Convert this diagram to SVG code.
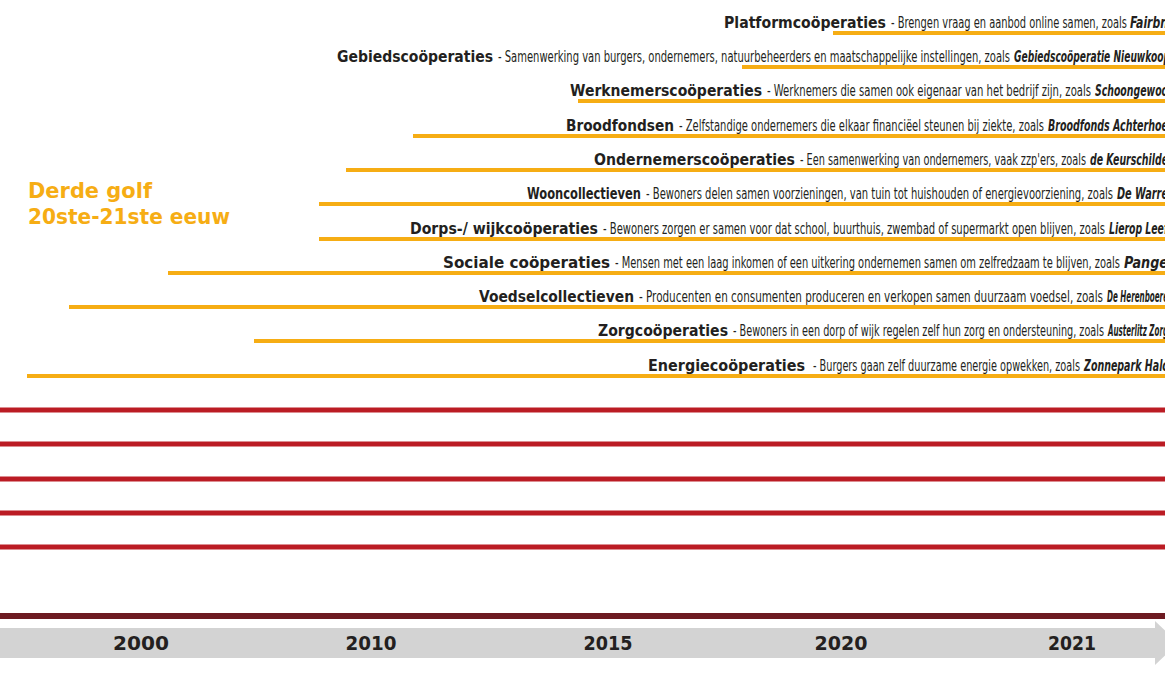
<svg xmlns="http://www.w3.org/2000/svg" width="1165" height="682" viewBox="0 0 1165 682">
<defs>
<style>
.t{font-family:"DejaVu Sans",Lato,sans-serif;font-weight:700;font-size:16px;fill:#231f20}
.d{font-family:"DejaVu Sans Condensed","Liberation Sans Narrow","Roboto",sans-serif;font-stretch:condensed;font-size:16px;fill:#231f20}
.n{font-family:"DejaVu Sans Condensed","Liberation Sans Narrow","Roboto",sans-serif;font-stretch:condensed;font-size:16px;font-weight:700;font-style:italic;fill:#231f20}
.bar{stroke:#f6ad14;stroke-width:4;fill:none}
.red{stroke:#bb1c24;stroke-width:5;fill:none}
.yr{font-family:"DejaVu Sans",sans-serif;font-weight:700;font-size:19px;fill:#231f20;text-anchor:middle}
.lbl{font-family:"DejaVu Sans",Lato,sans-serif;font-weight:700;font-size:21px;fill:#f6ad14}
</style>
</defs>
<rect width="1165" height="682" fill="#ffffff"/>

<g id="label-derde-golf">
<text class="lbl" x="28" y="198" textLength="124" lengthAdjust="spacingAndGlyphs">Derde golf</text>
<text class="lbl" x="28" y="224" textLength="202" lengthAdjust="spacingAndGlyphs">20ste-21ste eeuw</text>
</g>

<g id="connectors">
<line class="bar" x1="833" y1="33" x2="1165" y2="33"/>
<line class="bar" x1="742" y1="67" x2="1165" y2="67"/>
<line class="bar" x1="578" y1="101" x2="1165" y2="101"/>
<line class="bar" x1="413" y1="136" x2="1165" y2="136"/>
<line class="bar" x1="346" y1="170" x2="1165" y2="170"/>
<line class="bar" x1="319" y1="204" x2="1165" y2="204"/>
<line class="bar" x1="319" y1="239" x2="1165" y2="239"/>
<line class="bar" x1="168" y1="273" x2="1165" y2="273"/>
<line class="bar" x1="69" y1="307" x2="1165" y2="307"/>
<line class="bar" x1="254" y1="341" x2="1165" y2="341"/>
<line class="bar" x1="27" y1="376" x2="1165" y2="376"/>
<line class="red" x1="0" y1="410" x2="1165" y2="410"/>
<line class="red" x1="0" y1="444" x2="1165" y2="444"/>
<line class="red" x1="0" y1="479" x2="1165" y2="479"/>
<line class="red" x1="0" y1="513" x2="1165" y2="513"/>
<line class="red" x1="0" y1="547" x2="1165" y2="547"/>
<line x1="0" y1="616" x2="1165" y2="616" stroke="#6d1a21" stroke-width="6"/>
</g>

<g id="row-platform">
<text y="28"><tspan class="t" x="724" textLength="162" lengthAdjust="spacingAndGlyphs">Platformcoöperaties</tspan><tspan class="d" x="891" textLength="236" lengthAdjust="spacingAndGlyphs">- Brengen vraag en aanbod online samen, zoals</tspan><tspan class="n" x="1130" textLength="38" lengthAdjust="spacingAndGlyphs">Fairbn</tspan></text>
</g>
<g id="row-gebieds">
<text y="62"><tspan class="t" x="337" textLength="156" lengthAdjust="spacingAndGlyphs">Gebiedscoöperaties</tspan><tspan class="d" x="498" textLength="512" lengthAdjust="spacingAndGlyphs">- Samenwerking van burgers, ondernemers, natuurbeheerders en maatschappelijke instellingen, zoals</tspan><tspan class="n" x="1014" textLength="156" lengthAdjust="spacingAndGlyphs">Gebiedscoöperatie Nieuwkoop</tspan></text>
</g>
<g id="row-werknemers">
<text y="96"><tspan class="t" x="570" textLength="192" lengthAdjust="spacingAndGlyphs">Werknemerscoöperaties</tspan><tspan class="d" x="767" textLength="324" lengthAdjust="spacingAndGlyphs">- Werknemers die samen ook eigenaar van het bedrijf zijn, zoals</tspan><tspan class="n" x="1095" textLength="73" lengthAdjust="spacingAndGlyphs">Schoongewoo</tspan></text>
</g>
<g id="row-broodfondsen">
<text y="131"><tspan class="t" x="566" textLength="108" lengthAdjust="spacingAndGlyphs">Broodfondsen</tspan><tspan class="d" x="679" textLength="365" lengthAdjust="spacingAndGlyphs">- Zelfstandige ondernemers die elkaar financiëel steunen bij ziekte, zoals</tspan><tspan class="n" x="1048" textLength="120" lengthAdjust="spacingAndGlyphs">Broodfonds Achterhoe</tspan></text>
</g>
<g id="row-ondernemers">
<text y="165"><tspan class="t" x="594" textLength="201" lengthAdjust="spacingAndGlyphs">Ondernemerscoöperaties</tspan><tspan class="d" x="800" textLength="286" lengthAdjust="spacingAndGlyphs">- Een samenwerking van ondernemers, vaak zzp'ers, zoals</tspan><tspan class="n" x="1090" textLength="78" lengthAdjust="spacingAndGlyphs">de Keurschilde</tspan></text>
</g>
<g id="row-wooncollectieven">
<text y="199"><tspan class="t" x="527" textLength="114" lengthAdjust="spacingAndGlyphs">Wooncollectieven</tspan><tspan class="d" x="646" textLength="467" lengthAdjust="spacingAndGlyphs">- Bewoners delen samen voorzieningen, van tuin tot huishouden of energievoorziening, zoals</tspan><tspan class="n" x="1117" textLength="51" lengthAdjust="spacingAndGlyphs">De Warre</tspan></text>
</g>
<g id="row-dorps">
<text y="234"><tspan class="t" x="410" textLength="188" lengthAdjust="spacingAndGlyphs">Dorps-/ wijkcoöperaties</tspan><tspan class="d" x="603" textLength="502" lengthAdjust="spacingAndGlyphs">- Bewoners zorgen er samen voor dat school, buurthuis, zwembad of supermarkt open blijven, zoals</tspan><tspan class="n" x="1109" textLength="59" lengthAdjust="spacingAndGlyphs">Lierop Leef</tspan></text>
</g>
<g id="row-sociale">
<text y="268"><tspan class="t" x="443" textLength="167" lengthAdjust="spacingAndGlyphs">Sociale coöperaties</tspan><tspan class="d" x="615" textLength="505" lengthAdjust="spacingAndGlyphs">- Mensen met een laag inkomen of een uitkering ondernemen samen om zelfredzaam te blijven, zoals</tspan><tspan class="n" x="1124" textLength="44" lengthAdjust="spacingAndGlyphs">Pange</tspan></text>
</g>
<g id="row-voedsel">
<text y="302"><tspan class="t" x="479" textLength="155" lengthAdjust="spacingAndGlyphs">Voedselcollectieven</tspan><tspan class="d" x="639" textLength="464" lengthAdjust="spacingAndGlyphs">- Producenten en consumenten produceren en verkopen samen duurzaam voedsel, zoals</tspan><tspan class="n" x="1107" textLength="61" lengthAdjust="spacingAndGlyphs">De Herenboere</tspan></text>
</g>
<g id="row-zorg">
<text y="336"><tspan class="t" x="598" textLength="130" lengthAdjust="spacingAndGlyphs">Zorgcoöperaties</tspan><tspan class="d" x="733" textLength="371" lengthAdjust="spacingAndGlyphs">- Bewoners in een dorp of wijk regelen zelf hun zorg en ondersteuning, zoals</tspan><tspan class="n" x="1108" textLength="60" lengthAdjust="spacingAndGlyphs">Austerlitz Zorg</tspan></text>
</g>
<g id="row-energie">
<text y="371"><tspan class="t" x="648" textLength="157" lengthAdjust="spacingAndGlyphs">Energiecoöperaties</tspan><tspan class="d" x="813" textLength="267" lengthAdjust="spacingAndGlyphs">-  Burgers gaan zelf duurzame energie opwekken, zoals</tspan><tspan class="n" x="1084" textLength="84" lengthAdjust="spacingAndGlyphs">Zonnepark Halc</tspan></text>
</g>

<g id="timeline-axis">
<rect x="0" y="628" width="1156" height="30" fill="#d3d3d3"/>
<polygon points="1155,621 1178,643 1155,665" fill="#d3d3d3"/>
<text class="yr" x="141" y="650" textLength="56" lengthAdjust="spacingAndGlyphs">2000</text>
<text class="yr" x="371" y="650" textLength="51" lengthAdjust="spacingAndGlyphs">2010</text>
<text class="yr" x="608" y="650" textLength="49" lengthAdjust="spacingAndGlyphs">2015</text>
<text class="yr" x="841" y="650" textLength="53" lengthAdjust="spacingAndGlyphs">2020</text>
<text class="yr" x="1072" y="650" textLength="48" lengthAdjust="spacingAndGlyphs">2021</text>
</g>
</svg>
